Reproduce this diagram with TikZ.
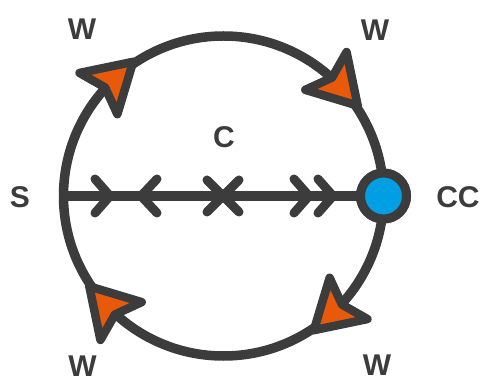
\documentclass[tikz,border=0pt]{standalone}
\usepackage{fontspec}
\setmainfont{Liberation Sans}
\usetikzlibrary{calc}
\definecolor{dk}{HTML}{3C3C3C}
\definecolor{org}{HTML}{E85A0A}
\definecolor{blu}{HTML}{009FE3}
\tikzset{
  ring/.style={draw=dk, line width=9.5},
  axisline/.style={draw=dk, line width=9.5},
  mk/.style={draw=dk, line width=9, line cap=round, line join=round},
  arrowhd/.style={fill=org, draw=dk, line width=8.5, line join=round},
  ccnode/.style={circle, fill=blu, draw=dk, line width=9, minimum size=46pt, inner sep=0pt},
  lbl/.style={text=dk, font=\fontsize{30}{32}\selectfont\bfseries, inner sep=0pt}
}
\begin{document}
\begin{tikzpicture}[x=1pt,y=1pt]
\useasboundingbox (0,0) rectangle (482,383);
\coordinate (O) at (223.5,187);
\coordinate (sp) at (63.5,187);
\draw[ring] (O) circle (160);
\node[ccnode] (cc) at (383.5,187) {};
\draw[axisline] (sp) -- (cc.center);
% markers
\draw[mk] (95,204) -- (110,187) -- (95,170);
\draw[mk] (157,204) -- (141,187) -- (157,170);
\draw[mk] (207,203) -- (239,171);
\draw[mk] (207,171) -- (239,203);
\draw[mk] (294,204) -- (309,187) -- (294,170);
\draw[mk] (318,204) -- (333,187) -- (318,170);
% arrowheads
\foreach \a in {132.5,42.5,-47.5,222.5}
  \filldraw[arrowhd, shift={(O)}, shift={(\a:160)}, rotate=\a-90]
    (24,0) -- (-23,28) -- (-14,0) -- (-23,-28) -- cycle;
\node[ccnode] (cc2) at (cc.center) {};
% labels
\node[lbl] (wtl) at (82,354) {W};
\node[lbl] (wtr) at (375,353) {W};
\node[lbl] (wbl) at (82.5,17) {W};
\node[lbl] (wbr) at (377,18) {W};
\node[lbl] (s) at (20,186) {S};
\node[lbl] (ccl) at (458,186) {CC};
\node[lbl] (c) at (224,246) {C};
\end{tikzpicture}
\end{document}
